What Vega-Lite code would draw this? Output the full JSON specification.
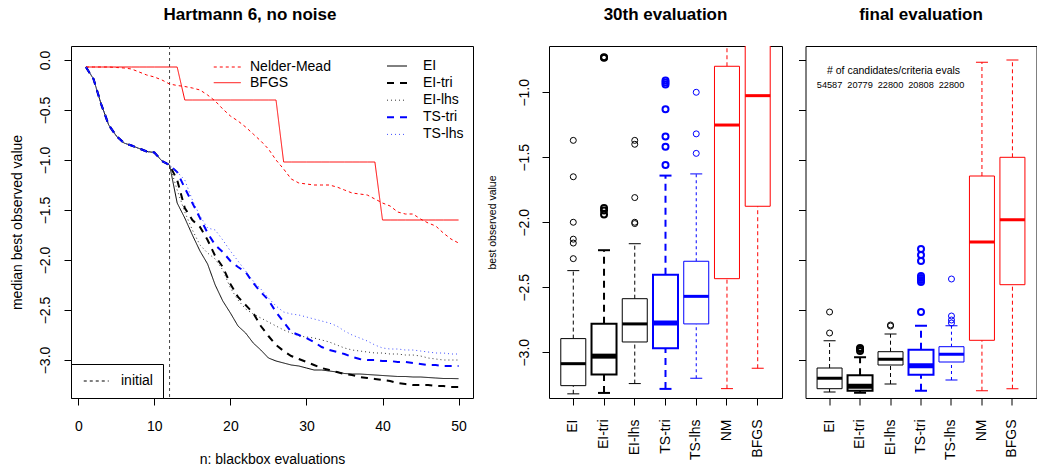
{
"$schema": "https://vega.github.io/schema/vega-lite/v6.json",
"background": "white",
"padding": {"left": 10, "top": 5, "right": 0, "bottom": 0},
"config": {
  "font": "Liberation Sans",
  "view": {"stroke": "black", "strokeWidth": 1},
  "tick": {"opacity": 1},
  "point": {"opacity": 1},
  "axis": {"grid": false, "domain": false, "ticks": true, "tickColor": "black", "tickSize": 7, "tickWidth": 1, "labelFont": "Liberation Sans", "labelFontSize": 14, "labelColor": "black", "titleFont": "Liberation Sans", "titleFontSize": 14, "titleFontWeight": "normal", "titleColor": "black", "labelOverlap": false, "labelFlush": false},
  "title": {"font": "Liberation Sans", "fontSize": 17, "fontWeight": "bold", "color": "black", "anchor": "middle", "frame": "group", "baseline": "alphabetic", "offset": 22},
  "legend": {"labelFont": "Liberation Sans", "labelFontSize": 14, "labelColor": "black"}
},
"datasets": {
  "curves": [
    {"n":1,"EI":-0.07,"EI-tri":-0.07,"EI-lhs":-0.07,"TS-tri":-0.07,"TS-lhs":-0.07,"Nelder-Mead":-0.07,"BFGS":-0.07},
    {"n":2,"EI":-0.19,"EI-tri":-0.19,"EI-lhs":-0.19,"TS-tri":-0.19,"TS-lhs":-0.19,"Nelder-Mead":-0.07,"BFGS":-0.07},
    {"n":3,"EI":-0.44,"EI-tri":-0.44,"EI-lhs":-0.44,"TS-tri":-0.44,"TS-lhs":-0.44,"Nelder-Mead":-0.07,"BFGS":-0.07},
    {"n":4,"EI":-0.65,"EI-tri":-0.65,"EI-lhs":-0.65,"TS-tri":-0.65,"TS-lhs":-0.65,"Nelder-Mead":-0.07,"BFGS":-0.07},
    {"n":5,"EI":-0.76,"EI-tri":-0.76,"EI-lhs":-0.76,"TS-tri":-0.76,"TS-lhs":-0.76,"Nelder-Mead":-0.075,"BFGS":-0.07},
    {"n":6,"EI":-0.83,"EI-tri":-0.83,"EI-lhs":-0.83,"TS-tri":-0.83,"TS-lhs":-0.83,"Nelder-Mead":-0.08,"BFGS":-0.07},
    {"n":7,"EI":-0.855,"EI-tri":-0.855,"EI-lhs":-0.855,"TS-tri":-0.855,"TS-lhs":-0.855,"Nelder-Mead":-0.09,"BFGS":-0.07},
    {"n":8,"EI":-0.885,"EI-tri":-0.885,"EI-lhs":-0.885,"TS-tri":-0.885,"TS-lhs":-0.885,"Nelder-Mead":-0.12,"BFGS":-0.07},
    {"n":9,"EI":-0.915,"EI-tri":-0.915,"EI-lhs":-0.915,"TS-tri":-0.915,"TS-lhs":-0.915,"Nelder-Mead":-0.15,"BFGS":-0.07},
    {"n":10,"EI":-0.925,"EI-tri":-0.925,"EI-lhs":-0.925,"TS-tri":-0.925,"TS-lhs":-0.925,"Nelder-Mead":-0.17,"BFGS":-0.07},
    {"n":11,"EI":-1.01,"EI-tri":-1.01,"EI-lhs":-1.01,"TS-tri":-1.01,"TS-lhs":-1.01,"Nelder-Mead":-0.2,"BFGS":-0.07},
    {"n":12,"EI":-1.05,"EI-tri":-1.05,"EI-lhs":-1.05,"TS-tri":-1.05,"TS-lhs":-1.05,"Nelder-Mead":-0.24,"BFGS":-0.07},
    {"n":13,"EI":-1.43,"EI-tri":-1.2,"EI-lhs":-1.3,"TS-tri":-1.12,"TS-lhs":-1.12,"Nelder-Mead":-0.255,"BFGS":-0.07},
    {"n":14,"EI":-1.58,"EI-tri":-1.48,"EI-lhs":-1.52,"TS-tri":-1.28,"TS-lhs":-1.2,"Nelder-Mead":-0.265,"BFGS":-0.4},
    {"n":15,"EI":-1.75,"EI-tri":-1.6,"EI-lhs":-1.7,"TS-tri":-1.43,"TS-lhs":-1.4,"Nelder-Mead":-0.28,"BFGS":-0.4},
    {"n":16,"EI":-1.91,"EI-tri":-1.67,"EI-lhs":-1.85,"TS-tri":-1.58,"TS-lhs":-1.56,"Nelder-Mead":-0.3,"BFGS":-0.4},
    {"n":17,"EI":-2.04,"EI-tri":-1.8,"EI-lhs":-1.93,"TS-tri":-1.73,"TS-lhs":-1.68,"Nelder-Mead":-0.35,"BFGS":-0.4},
    {"n":18,"EI":-2.25,"EI-tri":-1.96,"EI-lhs":-1.99,"TS-tri":-1.85,"TS-lhs":-1.7,"Nelder-Mead":-0.41,"BFGS":-0.4},
    {"n":19,"EI":-2.41,"EI-tri":-2.07,"EI-lhs":-2.1,"TS-tri":-1.92,"TS-lhs":-1.8,"Nelder-Mead":-0.49,"BFGS":-0.4},
    {"n":20,"EI":-2.53,"EI-tri":-2.24,"EI-lhs":-2.28,"TS-tri":-2.01,"TS-lhs":-1.91,"Nelder-Mead":-0.56,"BFGS":-0.4},
    {"n":21,"EI":-2.66,"EI-tri":-2.37,"EI-lhs":-2.4,"TS-tri":-2.07,"TS-lhs":-2.01,"Nelder-Mead":-0.61,"BFGS":-0.4},
    {"n":22,"EI":-2.73,"EI-tri":-2.45,"EI-lhs":-2.49,"TS-tri":-2.12,"TS-lhs":-2.11,"Nelder-Mead":-0.67,"BFGS":-0.4},
    {"n":23,"EI":-2.83,"EI-tri":-2.53,"EI-lhs":-2.54,"TS-tri":-2.23,"TS-lhs":-2.21,"Nelder-Mead":-0.74,"BFGS":-0.4},
    {"n":24,"EI":-2.9,"EI-tri":-2.66,"EI-lhs":-2.58,"TS-tri":-2.32,"TS-lhs":-2.29,"Nelder-Mead":-0.81,"BFGS":-0.4},
    {"n":25,"EI":-2.98,"EI-tri":-2.76,"EI-lhs":-2.62,"TS-tri":-2.4,"TS-lhs":-2.38,"Nelder-Mead":-0.89,"BFGS":-0.4},
    {"n":26,"EI":-3.01,"EI-tri":-2.85,"EI-lhs":-2.66,"TS-tri":-2.52,"TS-lhs":-2.46,"Nelder-Mead":-1.0,"BFGS":-0.4},
    {"n":27,"EI":-3.03,"EI-tri":-2.91,"EI-lhs":-2.7,"TS-tri":-2.62,"TS-lhs":-2.52,"Nelder-Mead":-1.09,"BFGS":-1.02},
    {"n":28,"EI":-3.05,"EI-tri":-2.96,"EI-lhs":-2.73,"TS-tri":-2.72,"TS-lhs":-2.54,"Nelder-Mead":-1.19,"BFGS":-1.02},
    {"n":29,"EI":-3.06,"EI-tri":-2.99,"EI-lhs":-2.76,"TS-tri":-2.75,"TS-lhs":-2.55,"Nelder-Mead":-1.23,"BFGS":-1.02},
    {"n":30,"EI":-3.08,"EI-tri":-3.02,"EI-lhs":-2.77,"TS-tri":-2.78,"TS-lhs":-2.57,"Nelder-Mead":-1.24,"BFGS":-1.02},
    {"n":31,"EI":-3.1,"EI-tri":-3.05,"EI-lhs":-2.78,"TS-tri":-2.82,"TS-lhs":-2.59,"Nelder-Mead":-1.25,"BFGS":-1.02},
    {"n":32,"EI":-3.1,"EI-tri":-3.08,"EI-lhs":-2.8,"TS-tri":-2.87,"TS-lhs":-2.61,"Nelder-Mead":-1.25,"BFGS":-1.02},
    {"n":33,"EI":-3.11,"EI-tri":-3.1,"EI-lhs":-2.82,"TS-tri":-2.9,"TS-lhs":-2.63,"Nelder-Mead":-1.25,"BFGS":-1.02},
    {"n":34,"EI":-3.12,"EI-tri":-3.12,"EI-lhs":-2.85,"TS-tri":-2.92,"TS-lhs":-2.66,"Nelder-Mead":-1.27,"BFGS":-1.02},
    {"n":35,"EI":-3.135,"EI-tri":-3.14,"EI-lhs":-2.88,"TS-tri":-2.94,"TS-lhs":-2.71,"Nelder-Mead":-1.3,"BFGS":-1.02},
    {"n":36,"EI":-3.14,"EI-tri":-3.15,"EI-lhs":-2.9,"TS-tri":-2.97,"TS-lhs":-2.75,"Nelder-Mead":-1.33,"BFGS":-1.02},
    {"n":37,"EI":-3.14,"EI-tri":-3.17,"EI-lhs":-2.91,"TS-tri":-2.99,"TS-lhs":-2.78,"Nelder-Mead":-1.34,"BFGS":-1.02},
    {"n":38,"EI":-3.145,"EI-tri":-3.18,"EI-lhs":-2.92,"TS-tri":-3.0,"TS-lhs":-2.81,"Nelder-Mead":-1.35,"BFGS":-1.02},
    {"n":39,"EI":-3.15,"EI-tri":-3.19,"EI-lhs":-2.93,"TS-tri":-3.0,"TS-lhs":-2.85,"Nelder-Mead":-1.39,"BFGS":-1.02},
    {"n":40,"EI":-3.155,"EI-tri":-3.2,"EI-lhs":-2.93,"TS-tri":-3.01,"TS-lhs":-2.88,"Nelder-Mead":-1.43,"BFGS":-1.6},
    {"n":41,"EI":-3.16,"EI-tri":-3.21,"EI-lhs":-2.94,"TS-tri":-3.01,"TS-lhs":-2.89,"Nelder-Mead":-1.46,"BFGS":-1.6},
    {"n":42,"EI":-3.165,"EI-tri":-3.23,"EI-lhs":-2.94,"TS-tri":-3.02,"TS-lhs":-2.89,"Nelder-Mead":-1.52,"BFGS":-1.6},
    {"n":43,"EI":-3.165,"EI-tri":-3.24,"EI-lhs":-2.95,"TS-tri":-3.02,"TS-lhs":-2.9,"Nelder-Mead":-1.54,"BFGS":-1.6},
    {"n":44,"EI":-3.17,"EI-tri":-3.25,"EI-lhs":-2.95,"TS-tri":-3.03,"TS-lhs":-2.9,"Nelder-Mead":-1.54,"BFGS":-1.6},
    {"n":45,"EI":-3.17,"EI-tri":-3.25,"EI-lhs":-2.96,"TS-tri":-3.04,"TS-lhs":-2.91,"Nelder-Mead":-1.59,"BFGS":-1.6},
    {"n":46,"EI":-3.175,"EI-tri":-3.25,"EI-lhs":-2.98,"TS-tri":-3.05,"TS-lhs":-2.92,"Nelder-Mead":-1.63,"BFGS":-1.6},
    {"n":47,"EI":-3.18,"EI-tri":-3.26,"EI-lhs":-2.99,"TS-tri":-3.05,"TS-lhs":-2.93,"Nelder-Mead":-1.66,"BFGS":-1.6},
    {"n":48,"EI":-3.185,"EI-tri":-3.26,"EI-lhs":-3.0,"TS-tri":-3.06,"TS-lhs":-2.93,"Nelder-Mead":-1.73,"BFGS":-1.6},
    {"n":49,"EI":-3.185,"EI-tri":-3.27,"EI-lhs":-3.0,"TS-tri":-3.06,"TS-lhs":-2.94,"Nelder-Mead":-1.79,"BFGS":-1.6},
    {"n":50,"EI":-3.187,"EI-tri":-3.27,"EI-lhs":-3.0,"TS-tri":-3.06,"TS-lhs":-2.94,"Nelder-Mead":-1.83,"BFGS":-1.6}
  ],
  "b30": [
    {"method":"EI","lower":-3.32,"q1":-3.257,"median":-3.088,"q3":-2.895,"upper":-2.372},
    {"method":"EI-tri","lower":-3.313,"q1":-3.172,"median":-3.03,"q3":-2.78,"upper":-2.215},
    {"method":"EI-lhs","lower":-3.241,"q1":-2.921,"median":-2.782,"q3":-2.588,"upper":-2.165},
    {"method":"TS-tri","lower":-3.282,"q1":-2.969,"median":-2.775,"q3":-2.403,"upper":-1.641},
    {"method":"TS-lhs","lower":-3.2,"q1":-2.782,"median":-2.57,"q3":-2.3,"upper":-1.628},
    {"method":"NM","lower":-3.28,"q1":-2.434,"median":-1.252,"q3":-0.8,"upper":-0.07},
    {"method":"BFGS","lower":-3.123,"q1":-1.877,"median":-1.026,"q3":-0.4,"upper":-0.07}
  ],
  "o30": [
    {"method":"EI","v":-1.37},{"method":"EI","v":-1.65},{"method":"EI","v":-2.0},{"method":"EI","v":-2.13},{"method":"EI","v":-2.16},{"method":"EI","v":-2.28},
    {"method":"EI-tri","v":-0.73},{"method":"EI-tri","v":-0.735},{"method":"EI-tri","v":-1.89},{"method":"EI-tri","v":-1.91},{"method":"EI-tri","v":-1.94},
    {"method":"EI-lhs","v":-1.37},{"method":"EI-lhs","v":-1.4},{"method":"EI-lhs","v":-1.81},{"method":"EI-lhs","v":-2.0},{"method":"EI-lhs","v":-2.01},
    {"method":"TS-tri","v":-0.91},{"method":"TS-tri","v":-0.925},{"method":"TS-tri","v":-0.94},{"method":"TS-tri","v":-1.13},{"method":"TS-tri","v":-1.34},{"method":"TS-tri","v":-1.42},{"method":"TS-tri","v":-1.56},
    {"method":"TS-lhs","v":-1.0},{"method":"TS-lhs","v":-1.32},{"method":"TS-lhs","v":-1.47}
  ],
  "bfin": [
    {"method":"EI","lower":-3.32,"q1":-3.287,"median":-3.183,"q3":-3.08,"upper":-2.807},
    {"method":"EI-tri","lower":-3.327,"q1":-3.307,"median":-3.263,"q3":-3.153,"upper":-2.973},
    {"method":"EI-lhs","lower":-3.24,"q1":-3.05,"median":-2.993,"q3":-2.917,"upper":-2.74},
    {"method":"TS-tri","lower":-3.307,"q1":-3.147,"median":-3.057,"q3":-2.897,"upper":-2.657},
    {"method":"TS-lhs","lower":-3.2,"q1":-3.02,"median":-2.943,"q3":-2.867,"upper":-2.657},
    {"method":"NM","lower":-3.307,"q1":-2.803,"median":-1.82,"q3":-1.16,"upper":-0.023},
    {"method":"BFGS","lower":-3.287,"q1":-2.247,"median":-1.597,"q3":-0.973,"upper":0.0}
  ],
  "ofin": [
    {"method":"EI","v":-2.73},{"method":"EI","v":-2.52},
    {"method":"EI-tri","v":-2.88},{"method":"EI-tri","v":-2.89},{"method":"EI-tri","v":-2.91},
    {"method":"EI-lhs","v":-2.65},{"method":"EI-lhs","v":-2.66},
    {"method":"TS-tri","v":-1.89},{"method":"TS-tri","v":-1.95},{"method":"TS-tri","v":-2.01},{"method":"TS-tri","v":-2.16},{"method":"TS-tri","v":-2.18},{"method":"TS-tri","v":-2.2},{"method":"TS-tri","v":-2.22},{"method":"TS-tri","v":-2.52},
    {"method":"TS-lhs","v":-2.19},{"method":"TS-lhs","v":-2.56},{"method":"TS-lhs","v":-2.6},{"method":"TS-lhs","v":-2.63}
  ],
  "ann": [
    {"method":"EI-lhs","v":-0.107,"label":"# of candidates/criteria evals","row":"head"},
    {"method":"EI","v":-0.247,"label":"54587","row":"count"},
    {"method":"EI-tri","v":-0.247,"label":"20779","row":"count"},
    {"method":"EI-lhs","v":-0.247,"label":"22800","row":"count"},
    {"method":"TS-tri","v":-0.247,"label":"20808","row":"count"},
    {"method":"TS-lhs","v":-0.247,"label":"22800","row":"count"}
  ]
},
"spacing": 76,
"bounds": "flush",
"hconcat": [
  {
    "width": 402, "height": 352,
    "title": {"text": "Hartmann 6, no noise", "dx": -22},
    "layer": [
      {
        "data": {"values": [{"n": 12, "lab": "initial"}]},
        "mark": {"type": "rule", "color": "#444", "strokeWidth": 1},
        "encoding": {
          "x": {"field": "n", "type": "quantitative", "scale": {"domain": [-0.96, 51.9], "nice": false, "zero": false}, "axis": {"values": [0,10,20,30,40,50], "labelPadding": 14, "titlePadding": 19}, "title": "n: blackbox evaluations"},
          "strokeDash": {"field": "lab", "type": "nominal", "scale": {"domain": ["initial"], "range": [[3,3]]}, "legend": {"orient": "none", "legendX": 0, "legendY": 318, "title": null, "symbolType": "M-1,0H3", "symbolSize": 156, "symbolStrokeColor": "black", "symbolStrokeWidth": 1, "symbolOffset": 2, "labelOffset": 24, "padding": 10, "strokeColor": "black", "fillColor": "white"}}
        }
      },
      {
        "data": {"name": "curves"},
        "transform": [{"fold": ["Nelder-Mead", "BFGS"], "as": ["method", "v"]}],
        "mark": {"type": "line", "strokeWidth": 1},
        "encoding": {
          "x": {"field": "n", "type": "quantitative", "title": "n: blackbox evaluations"},
          "y": {"field": "v", "type": "quantitative", "scale": {"domain": [-3.38, 0.14], "nice": false, "zero": false}, "axis": {"values": [-3,-2.5,-2,-1.5,-1,-0.5,0], "labelAngle": 270, "labelAlign": "center", "labelBaseline": "bottom", "labelPadding": 11.5, "titlePadding": 13.7, "labelExpr": "replace(format(datum.value, '.1f'), '-', '−')"}, "title": "median best observed value"},
          "color": {"field": "method", "type": "nominal", "scale": {"domain": ["Nelder-Mead", "BFGS"], "range": ["red", "red"]}, "legend": {"orient": "none", "legendX": 142, "legendY": 13.5, "title": null, "symbolType": "M-1,0H3", "symbolSize": 182, "symbolStrokeWidth": 1, "labelOffset": 22, "rowPadding": 0.7, "padding": 0}},
          "strokeDash": {"field": "method", "type": "nominal", "scale": {"domain": ["Nelder-Mead", "BFGS"], "range": [[3,3],[1,0]]}, "legend": {"orient": "none", "legendX": 142, "legendY": 13.5, "title": null, "symbolType": "M-1,0H3", "symbolSize": 182, "symbolStrokeWidth": 1, "labelOffset": 22, "rowPadding": 0.7, "padding": 0}}
        }
      },
      {
        "data": {"name": "curves"},
        "transform": [{"fold": ["EI", "EI-tri", "EI-lhs", "TS-tri", "TS-lhs"], "as": ["method", "v"]}],
        "mark": {"type": "line"},
        "encoding": {
          "x": {"field": "n", "type": "quantitative", "title": "n: blackbox evaluations"},
          "y": {"field": "v", "type": "quantitative", "title": "median best observed value"},
          "color": {"field": "method", "type": "nominal", "scale": {"domain": ["EI", "EI-tri", "EI-lhs", "TS-tri", "TS-lhs"], "range": ["black", "black", "#333", "blue", "#4050ff"]}, "legend": {"orient": "none", "legendX": 314, "legendY": 13, "title": null, "symbolType": "M-1,0H3", "symbolSize": 100, "labelOffset": 24, "rowPadding": 3.1, "padding": 0}},
          "strokeDash": {"field": "method", "type": "nominal", "scale": {"domain": ["EI", "EI-tri", "EI-lhs", "TS-tri", "TS-lhs"], "range": [[1,0],[7,6],[1,3],[7,6],[1,3]]}, "legend": {"orient": "none", "legendX": 314, "legendY": 13, "title": null, "symbolType": "M-1,0H3", "symbolSize": 100, "labelOffset": 24, "rowPadding": 3.1, "padding": 0}},
          "strokeWidth": {"field": "method", "type": "nominal", "scale": {"type": "ordinal", "domain": ["EI", "EI-tri", "EI-lhs", "TS-tri", "TS-lhs"], "range": [1, 2, 1, 2, 1]}, "legend": {"orient": "none", "legendX": 314, "legendY": 13, "title": null, "symbolType": "M-1,0H3", "symbolSize": 100, "labelOffset": 24, "rowPadding": 3.1, "padding": 0}}
        }
      }
    ],
    "resolve": {"scale": {"color": "independent", "strokeDash": "independent", "strokeWidth": "independent"}, "legend": {"color": "independent", "strokeDash": "independent", "strokeWidth": "independent"}}
  },
  {
    "spacing": 23.5,
    "bounds": "flush",
    "hconcat": [
      {
        "width": 233, "height": 352,
        "title": {"text": "30th evaluation"},
        "encoding": {
          "x": {"field": "method", "type": "nominal", "sort": null, "scale": {"domain": ["EI","EI-tri","EI-lhs","TS-tri","TS-lhs","NM","BFGS"], "paddingInner": 0, "paddingOuter": 0.29}, "axis": {"labelAngle": 270, "labelAlign": "right", "labelBaseline": "middle", "labelPadding": 14}, "title": null},
          "color": {"field": "method", "type": "nominal", "scale": {"domain": ["EI","EI-tri","EI-lhs","TS-tri","TS-lhs","NM","BFGS"], "range": ["black","black","black","blue","blue","red","red"]}, "legend": null},
          "strokeWidth": {"field": "method", "type": "nominal", "scale": {"type": "ordinal", "domain": ["EI","EI-tri","EI-lhs","TS-tri","TS-lhs","NM","BFGS"], "range": [1,2,1,2,1,1,1]}, "legend": null}
        },
        "layer": [
          {
            "data": {"name": "b30"},
            "mark": {"type": "rule", "clip": true},
            "encoding": {
              "y": {"field": "lower", "type": "quantitative", "scale": {"domain": [-3.352, -0.644], "nice": false, "zero": false}, "axis": {"values": [-3,-2.5,-2,-1.5,-1], "labelAngle": 270, "labelAlign": "center", "labelBaseline": "bottom", "labelPadding": 11, "titleFontSize": 10.5, "titlePadding": 19.8, "labelExpr": "replace(format(datum.value, '.1f'), '-', '−')"}, "title": "best observed value"},
              "y2": {"field": "q1"},
              "strokeDash": {"field": "method", "type": "nominal", "scale": {"type": "ordinal", "domain": ["EI","EI-tri","EI-lhs","TS-tri","TS-lhs","NM","BFGS"], "range": [[4,3],[7,5],[4,3],[7,5],[3,3],[4,3],[4,3]]}, "legend": null}
            }
          },
          {
            "data": {"name": "b30"},
            "mark": {"type": "rule", "clip": true},
            "encoding": {
              "y": {"field": "q3", "type": "quantitative", "scale": {"domain": [-3.352, -0.644], "nice": false, "zero": false}, "title": "best observed value"},
              "y2": {"field": "upper"},
              "strokeDash": {"field": "method", "type": "nominal", "scale": {"type": "ordinal", "domain": ["EI","EI-tri","EI-lhs","TS-tri","TS-lhs","NM","BFGS"], "range": [[4,3],[7,5],[4,3],[7,5],[3,3],[4,3],[4,3]]}, "legend": null}
            }
          },
          {
            "data": {"name": "b30"},
            "transform": [{"filter": {"field": "method", "oneOf": ["EI","EI-lhs","TS-lhs","NM","BFGS"]}}, {"fold": ["lower", "upper"], "as": ["k", "cap"]}],
            "mark": {"type": "tick", "size": 12, "thickness": 1, "clip": true, "opacity": 1},
            "encoding": {
              "y": {"field": "cap", "type": "quantitative", "scale": {"domain": [-3.352, -0.644], "nice": false, "zero": false}, "title": "best observed value"}
            }
          },
          {
            "data": {"name": "b30"},
            "transform": [{"filter": {"field": "method", "oneOf": ["EI-tri","TS-tri"]}}, {"fold": ["lower", "upper"], "as": ["k", "cap"]}],
            "mark": {"type": "tick", "size": 12, "thickness": 2, "clip": true, "opacity": 1},
            "encoding": {
              "y": {"field": "cap", "type": "quantitative", "scale": {"domain": [-3.352, -0.644], "nice": false, "zero": false}, "title": "best observed value"}
            }
          },
          {
            "data": {"name": "b30"},
            "mark": {"type": "bar", "size": 25, "fill": "white", "clip": true},
            "encoding": {
              "y": {"field": "q1", "type": "quantitative", "scale": {"domain": [-3.352, -0.644], "nice": false, "zero": false}, "title": "best observed value"},
              "y2": {"field": "q3"},
              "fill": {"value": "white"},
              "stroke": {"field": "method", "type": "nominal", "scale": {"domain": ["EI","EI-tri","EI-lhs","TS-tri","TS-lhs","NM","BFGS"], "range": ["black","black","black","blue","blue","red","red"]}, "legend": null}
            }
          },
          {
            "data": {"name": "b30"},
            "transform": [{"filter": {"field": "method", "oneOf": ["EI","EI-lhs","TS-lhs","NM","BFGS"]}}],
            "mark": {"type": "tick", "size": 25, "thickness": 3, "clip": true, "opacity": 1},
            "encoding": {
              "y": {"field": "median", "type": "quantitative", "scale": {"domain": [-3.352, -0.644], "nice": false, "zero": false}, "title": "best observed value"}
            }
          },
          {
            "data": {"name": "b30"},
            "transform": [{"filter": {"field": "method", "oneOf": ["EI-tri","TS-tri"]}}],
            "mark": {"type": "tick", "size": 25, "thickness": 5, "clip": true, "opacity": 1},
            "encoding": {
              "y": {"field": "median", "type": "quantitative", "scale": {"domain": [-3.352, -0.644], "nice": false, "zero": false}, "title": "best observed value"}
            }
          },
          {
            "data": {"name": "o30"},
            "mark": {"type": "point", "shape": "circle", "filled": false, "size": 36, "clip": true, "opacity": 1},
            "encoding": {
              "y": {"field": "v", "type": "quantitative", "scale": {"domain": [-3.352, -0.644], "nice": false, "zero": false}, "title": "best observed value"}
            }
          }
        ]
      },
      {
        "width": 231, "height": 352,
        "title": {"text": "final evaluation"},
        "encoding": {
          "x": {"field": "method", "type": "nominal", "sort": null, "scale": {"domain": ["EI","EI-tri","EI-lhs","TS-tri","TS-lhs","NM","BFGS"], "paddingInner": 0, "paddingOuter": 0.29}, "axis": {"labelAngle": 270, "labelAlign": "right", "labelBaseline": "middle", "labelPadding": 14}, "title": null},
          "color": {"field": "method", "type": "nominal", "scale": {"domain": ["EI","EI-tri","EI-lhs","TS-tri","TS-lhs","NM","BFGS"], "range": ["black","black","black","blue","blue","red","red"]}, "legend": null},
          "strokeWidth": {"field": "method", "type": "nominal", "scale": {"type": "ordinal", "domain": ["EI","EI-tri","EI-lhs","TS-tri","TS-lhs","NM","BFGS"], "range": [1,2,1,2,1,1,1]}, "legend": null}
        },
        "layer": [
          {
            "data": {"name": "bfin"},
            "mark": {"type": "rule", "clip": true},
            "encoding": {
              "y": {"field": "lower", "type": "quantitative", "scale": {"domain": [-3.38, 0.14], "nice": false, "zero": false}, "axis": {"values": [-3,-2.5,-2,-1.5,-1,-0.5,0], "labels": false}, "title": null},
              "y2": {"field": "q1"},
              "strokeDash": {"field": "method", "type": "nominal", "scale": {"type": "ordinal", "domain": ["EI","EI-tri","EI-lhs","TS-tri","TS-lhs","NM","BFGS"], "range": [[4,3],[7,5],[4,3],[7,5],[3,3],[4,3],[4,3]]}, "legend": null}
            }
          },
          {
            "data": {"name": "bfin"},
            "mark": {"type": "rule", "clip": true},
            "encoding": {
              "y": {"field": "q3", "type": "quantitative", "scale": {"domain": [-3.38, 0.14], "nice": false, "zero": false}, "title": null},
              "y2": {"field": "upper"},
              "strokeDash": {"field": "method", "type": "nominal", "scale": {"type": "ordinal", "domain": ["EI","EI-tri","EI-lhs","TS-tri","TS-lhs","NM","BFGS"], "range": [[4,3],[7,5],[4,3],[7,5],[3,3],[4,3],[4,3]]}, "legend": null}
            }
          },
          {
            "data": {"name": "bfin"},
            "transform": [{"filter": {"field": "method", "oneOf": ["EI","EI-lhs","TS-lhs","NM","BFGS"]}}, {"fold": ["lower", "upper"], "as": ["k", "cap"]}],
            "mark": {"type": "tick", "size": 12, "thickness": 1, "clip": true, "opacity": 1},
            "encoding": {
              "y": {"field": "cap", "type": "quantitative", "scale": {"domain": [-3.38, 0.14], "nice": false, "zero": false}, "title": null}
            }
          },
          {
            "data": {"name": "bfin"},
            "transform": [{"filter": {"field": "method", "oneOf": ["EI-tri","TS-tri"]}}, {"fold": ["lower", "upper"], "as": ["k", "cap"]}],
            "mark": {"type": "tick", "size": 12, "thickness": 2, "clip": true, "opacity": 1},
            "encoding": {
              "y": {"field": "cap", "type": "quantitative", "scale": {"domain": [-3.38, 0.14], "nice": false, "zero": false}, "title": null}
            }
          },
          {
            "data": {"name": "bfin"},
            "mark": {"type": "bar", "size": 25, "fill": "white", "clip": true},
            "encoding": {
              "y": {"field": "q1", "type": "quantitative", "scale": {"domain": [-3.38, 0.14], "nice": false, "zero": false}, "title": null},
              "y2": {"field": "q3"},
              "fill": {"value": "white"},
              "stroke": {"field": "method", "type": "nominal", "scale": {"domain": ["EI","EI-tri","EI-lhs","TS-tri","TS-lhs","NM","BFGS"], "range": ["black","black","black","blue","blue","red","red"]}, "legend": null}
            }
          },
          {
            "data": {"name": "bfin"},
            "transform": [{"filter": {"field": "method", "oneOf": ["EI","EI-lhs","TS-lhs","NM","BFGS"]}}],
            "mark": {"type": "tick", "size": 25, "thickness": 3, "clip": true, "opacity": 1},
            "encoding": {
              "y": {"field": "median", "type": "quantitative", "scale": {"domain": [-3.38, 0.14], "nice": false, "zero": false}, "title": null}
            }
          },
          {
            "data": {"name": "bfin"},
            "transform": [{"filter": {"field": "method", "oneOf": ["EI-tri","TS-tri"]}}],
            "mark": {"type": "tick", "size": 25, "thickness": 5, "clip": true, "opacity": 1},
            "encoding": {
              "y": {"field": "median", "type": "quantitative", "scale": {"domain": [-3.38, 0.14], "nice": false, "zero": false}, "title": null}
            }
          },
          {
            "data": {"name": "ofin"},
            "mark": {"type": "point", "shape": "circle", "filled": false, "size": 36, "clip": true, "opacity": 1},
            "encoding": {
              "y": {"field": "v", "type": "quantitative", "scale": {"domain": [-3.38, 0.14], "nice": false, "zero": false}, "title": null}
            }
          },
          {
            "data": {"name": "ann"},
            "transform": [{"filter": {"field": "row", "equal": "head"}}],
            "mark": {"type": "text", "fontSize": 10.5, "font": "Liberation Sans", "baseline": "middle", "dx": 3},
            "encoding": {
              "y": {"field": "v", "type": "quantitative", "scale": {"domain": [-3.38, 0.14], "nice": false, "zero": false}, "title": null},
              "text": {"field": "label"},
              "color": {"value": "black"},
              "strokeWidth": {"value": 0}
            }
          },
          {
            "data": {"name": "ann"},
            "transform": [{"filter": {"field": "row", "equal": "count"}}],
            "mark": {"type": "text", "fontSize": 9.2, "font": "Liberation Sans", "baseline": "middle"},
            "encoding": {
              "y": {"field": "v", "type": "quantitative", "scale": {"domain": [-3.38, 0.14], "nice": false, "zero": false}, "title": null},
              "text": {"field": "label"},
              "color": {"value": "black"},
              "strokeWidth": {"value": 0}
            }
          }
        ]
      }
    ]
  }
]
}
